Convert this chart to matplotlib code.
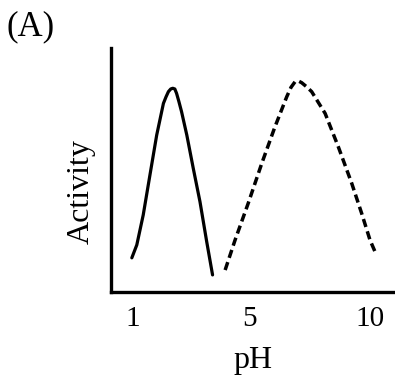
import numpy as np
import matplotlib.pyplot as plt

plt.rcParams['font.family'] = ['Liberation Serif', 'DejaVu Serif']

# pH values and activity (arbitrary units, 0-100)
ph_acid = [0.96, 1.13, 1.35, 1.58, 1.81, 2.04, 2.13, 2.21, 2.29, 2.36, 2.43,
           2.49, 2.57, 2.66, 2.84, 3.06, 3.29, 3.52, 3.72]
act_acid = [14.0, 19.3, 31.6, 48.0, 64.3, 77.3, 80.0, 82.1, 83.2, 83.5, 83.2,
            81.4, 78.0, 73.9, 64.3, 50.7, 37.0, 20.6, 7.0]

ph_neutral = [4.15, 4.49, 4.94, 5.49, 6.04, 6.53, 6.71, 6.88, 7.01, 7.15, 7.36,
              7.57, 8.13, 8.68, 9.24, 9.65, 10.0, 10.21]
act_neutral = [9.0, 21.3, 36.4, 52.7, 67.7, 80.0, 83.9, 86.2, 86.5, 85.8, 84.1,
               82.1, 73.2, 59.5, 44.5, 32.3, 21.3, 16.5]

tick_ph = [1, 5, 10]
tick_labels = ['1', '5', '10']


# the hand-drawn axis is not evenly spaced: 1->5 is wider than 5->10
def fwd(x):
    x = np.asarray(x, dtype=float)
    return np.where(x <= 5, (x - 1) * 29.25, 117 + (x - 5) * 24)


def inv(p):
    p = np.asarray(p, dtype=float)
    return np.where(p <= 117, 1 + p / 29.25, 5 + (p - 117) / 24)


fig = plt.figure(figsize=(3.95, 3.81), dpi=100)
ax = fig.add_axes([111 / 395, 89 / 381, 284 / 395, 244 / 381])
ax.set_xscale('function', functions=(fwd, inv))

ax.plot(ph_acid, act_acid, color='black', lw=2.3,
        solid_capstyle='round', solid_joinstyle='round')
ax.plot(ph_neutral, act_neutral, color='black', lw=2.5,
        linestyle=(0, (2.4, 1.3)), dash_capstyle='butt', dash_joinstyle='round')

ax.set_xlim(1 - 22 / 29.25, 5 + 145 / 24)
ax.set_ylim(0, 100)

for s in ['top', 'right']:
    ax.spines[s].set_visible(False)
for s in ['left', 'bottom']:
    ax.spines[s].set_linewidth(2.4)

ax.set_xticks(tick_ph)
ax.set_xticklabels(tick_labels)
ax.set_yticks([])
ax.tick_params(axis='x', length=0, pad=10, labelsize=21)

ax.set_xlabel('pH', fontsize=23)
ax.xaxis.set_label_coords(0.5, -0.22)
ax.set_ylabel('Activity', fontsize=23)
ax.yaxis.set_label_coords(-0.055, 0.41)

fig.text(7 / 395, 1 - 27 / 381, '(A)', fontsize=25, ha='left', va='center')

plt.savefig('out.png', dpi=100)
